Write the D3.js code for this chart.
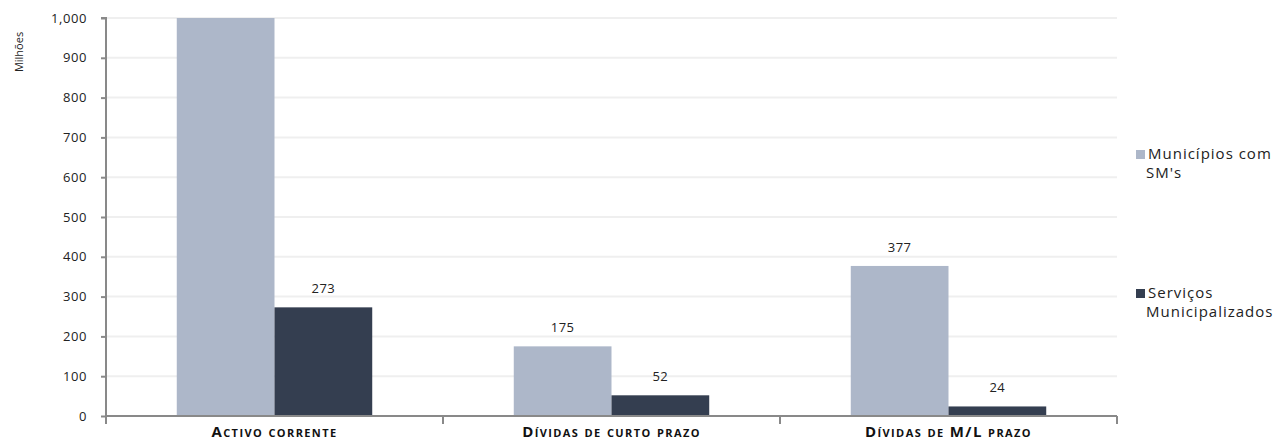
<!DOCTYPE html>
<html><head><meta charset="utf-8">
<script src="https://cdn.jsdelivr.net/npm/d3@7"></script>
<style>body{margin:0;background:#fff;}svg{display:block;font-family:"Open Sans",sans-serif;}</style>
</head><body><svg id="c" width="1285" height="447"></svg>
<script>
const categories = ["Activo corrente", "Dívidas de curto prazo", "Dívidas de M/L prazo"];
const seriesNames = ["Municípios com SM's", "Serviços Municipalizados"];
const municipios = [1130, 175, 377];
const servicos = [273, 52, 24];
const yTicks = [0,100,200,300,400,500,600,700,800,900,1000];
const colors = ["#adb7c9", "#343e50"];

const svg = d3.select("#c");
const m = {l:106, r:168, t:18, b:31};
const W = 1285, H = 447;
const x = d3.scaleBand().domain(categories).range([m.l, W - m.r]).paddingInner(0).paddingOuter(0);
const y = d3.scaleLinear().domain([0,1000]).range([H - m.b, m.t]);
const groupW = x.bandwidth() * 0.58;
const x1 = d3.scaleBand().domain([0,1]).range([0, groupW]);

// gridlines
svg.append("g").selectAll("line").data(yTicks.slice(1)).join("line")
  .attr("x1", m.l).attr("x2", W - m.r).attr("y1", d=>y(d)).attr("y2", d=>y(d))
  .attr("stroke", "#efefef").attr("stroke-width", 2);

svg.append("defs").append("clipPath").attr("id","clip").append("rect")
  .attr("x", m.l).attr("y", m.t).attr("width", W-m.l-m.r).attr("height", H-m.b-m.t);

const series = [municipios, servicos];
const gBars = svg.append("g").attr("clip-path","url(#clip)");
series.forEach((vals, si) => {
  gBars.selectAll(null).data(categories).join("rect")
    .attr("x", (c) => x(c) + (x.bandwidth()-groupW)/2 + x1(si))
    .attr("width", x1.bandwidth())
    .attr("y", (c,i) => y(vals[i]))
    .attr("height", (c,i) => y(0) - y(vals[i]))
    .attr("fill", colors[si]);
  svg.append("g").selectAll("text").data(categories.filter((c,i)=>vals[i] <= 1000)).join("text")
    .attr("x", (c) => x(c) + (x.bandwidth()-groupW)/2 + x1(si) + x1.bandwidth()/2)
    .attr("y", (c) => y(vals[categories.indexOf(c)]) - 14)
    .attr("text-anchor","middle").attr("font-size", 13).attr("fill","#222")
    .style("letter-spacing","0.5px")
    .text(c => d3.format(",")(vals[categories.indexOf(c)]));
});

// y axis
const yAxis = svg.append("g").attr("transform", `translate(${m.l},0)`)
  .call(d3.axisLeft(y).tickValues(yTicks).tickSize(5).tickPadding(14).tickFormat(d3.format(",")));
yAxis.select(".domain").attr("stroke","#898989").attr("stroke-width",2).attr("d", `M-5,${y(1000)}H0V${y(0)+8}`);
yAxis.selectAll(".tick line").attr("stroke","#898989").attr("stroke-width",2);
yAxis.selectAll(".tick text").attr("font-size",13).attr("fill","#222").attr("font-family","Open Sans, sans-serif")
  .style("letter-spacing","0.6px");

// x axis
const xAxis = svg.append("g").attr("transform", `translate(0,${y(0)})`);
xAxis.append("line").attr("x1", m.l).attr("x2", W-m.r).attr("stroke","#898989").attr("stroke-width",2);
const edges = categories.map(c => x(c)).concat([x(categories[categories.length-1]) + x.bandwidth()]);
xAxis.selectAll("line.t").data(edges).join("line").attr("class","t")
  .attr("x1", d=>d).attr("x2", d=>d).attr("y1",0).attr("y2",8)
  .attr("stroke","#898989").attr("stroke-width",2);
xAxis.selectAll("text").data(categories).join("text")
  .attr("x", c => x(c) + x.bandwidth()/2).attr("y", 21)
  .attr("text-anchor","middle").attr("font-size",15).attr("font-weight","bold")
  .style("font-variant","small-caps").style("letter-spacing","1.4px").attr("fill","#111").text(c=>c);

// y label
svg.append("text").attr("transform", "translate(23,52) rotate(-90)")
  .attr("text-anchor","middle").attr("font-size",11).attr("fill","#222").text("Milhões");

// legend
const legend = [
  {name: seriesNames[0], lines:["Municípios com","SM's"], y:159, color: colors[0]},
  {name: seriesNames[1], lines:["Serviços","Municipalizados"], y:298, color: colors[1]}
];
legend.forEach(l => {
  const g = svg.append("g");
  g.append("rect").attr("x",1136).attr("y", l.y-9).attr("width",9).attr("height",9).attr("fill", l.color);
  const t = g.append("text").attr("font-size",15).attr("fill","#222").style("letter-spacing","1px");
  l.lines.forEach((ln,i) => t.append("tspan").attr("x", i===0?1148:1146).attr("y", l.y + i*19).text(ln));
});
</script></body></html>
